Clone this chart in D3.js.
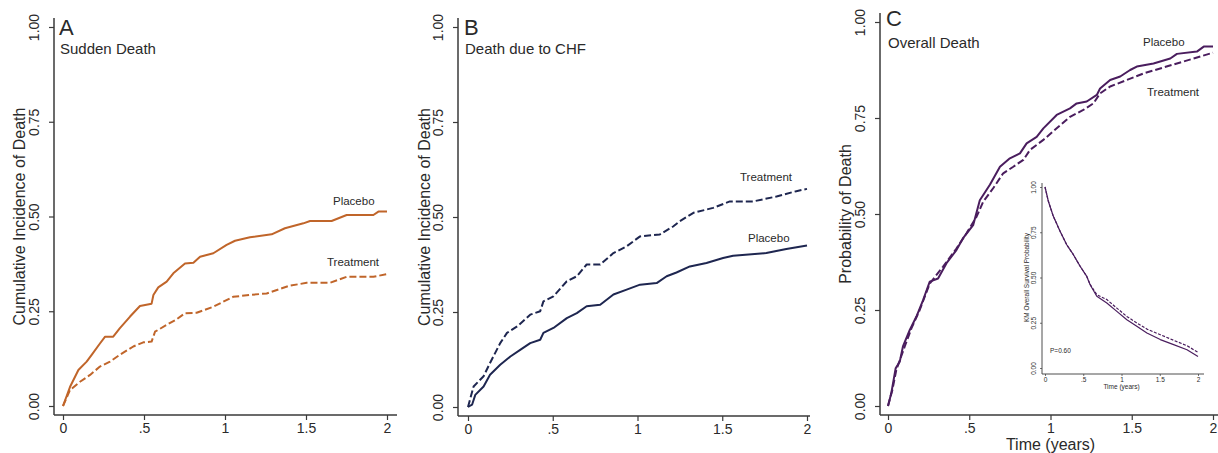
<!DOCTYPE html>
<html>
<head>
<meta charset="utf-8">
<script src="https://cdn.jsdelivr.net/npm/d3@7/dist/d3.min.js"></script>
<style>
  body { margin: 0; background: #fff; }
  svg { display: block; font-family: "Liberation Sans", Arial, sans-serif; }
</style>
</head>
<body>
<svg id="chart" width="1218" height="453"></svg>
<script>
// ---------- DATA ----------
const xTicks = [0, 0.5, 1, 1.5, 2];
const xTickLabels = ["0", ".5", "1", "1.5", "2"];
const yTicks = [0, 0.25, 0.5, 0.75, 1];
const yTickLabels = ["0.00", "0.25", "0.50", "0.75", "1.00"];

// Panel A: Sudden Death
const aPlaceboT = [0, .043, .095, .146, .177, .228, .26, .31, .35, .414, .475, .547, .558, .588, .64, .681, .753, .805, .846, .928, 1.01, 1.062, 1.154, 1.288, 1.37, 1.484, 1.525, 1.658, 1.751, 1.916, 1.947, 2];
const aPlaceboV = [0, .05, .095, .117, .135, .165, .183, .183, .205, .236, .264, .27, .293, .313, .328, .35, .376, .378, .394, .403, .425, .436, .445, .453, .469, .482, .488, .488, .504, .504, .513, .513];
const aTreatT = [0, .043, .105, .167, .228, .29, .35, .434, .496, .547, .568, .64, .702, .753, .825, .928, 1.05, 1.154, 1.257, 1.395, 1.504, 1.648, 1.751, 1.916, 2];
const aTreatV = [0, .042, .064, .082, .104, .117, .135, .157, .168, .17, .196, .214, .229, .245, .246, .262, .288, .293, .297, .317, .325, .325, .341, .341, .348];

// Panel B: Death due to CHF
const bPlaceboT = [0, .024, .043, .092, .13, .19, .25, .31, .367, .426, .445, .504, .583, .642, .70, .78, .858, .936, 1.015, 1.113, 1.172, 1.23, 1.309, 1.407, 1.505, 1.564, 1.76, 1.878, 2];
const bPlaceboV = [0, .006, .032, .054, .085, .111, .133, .151, .168, .177, .195, .208, .234, .247, .265, .269, .296, .309, .322, .326, .344, .354, .37, .379, .392, .398, .405, .416, .425];
const bTreatT = [0, .033, .092, .13, .19, .23, .29, .367, .426, .445, .504, .583, .642, .70, .78, .858, .936, 1.015, 1.132, 1.21, 1.25, 1.33, 1.446, 1.545, 1.682, 1.82, 1.937, 2];
const bTreatV = [0, .054, .081, .116, .168, .195, .212, .243, .252, .278, .291, .331, .344, .375, .375, .405, .423, .449, .454, .475, .489, .511, .524, .541, .541, .554, .568, .574];

// Panel C: Overall Death
const cPlaceboT = [0, .02, .047, .072, .092, .134, .175, .216, .257, .308, .36, .421, .462, .524, .565, .627, .689, .75, .812, .853, .915, .956, 1.038, 1.12, 1.161, 1.223, 1.285, 1.305, 1.367, 1.429, 1.49, 1.531, 1.634, 1.737, 1.778, 1.901, 1.943, 2];
const cPlaceboV = [0, .033, .098, .115, .155, .198, .233, .276, .324, .332, .372, .406, .437, .471, .536, .576, .623, .645, .658, .684, .701, .723, .758, .775, .788, .793, .81, .827, .849, .858, .875, .884, .892, .905, .917, .923, .936, .936];
const cTreatT = [0, .027, .051, .103, .144, .195, .257, .339, .421, .483, .545, .586, .647, .709, .771, .833, .874, .956, 1.038, 1.12, 1.202, 1.264, 1.305, 1.367, 1.47, 1.572, 1.675, 1.778, 1.881, 2];
const cTreatV = [0, .042, .094, .155, .202, .25, .319, .363, .41, .45, .493, .532, .567, .606, .623, .641, .667, .693, .723, .753, .771, .788, .814, .832, .849, .866, .879, .892, .905, .92];

// Inset: KM overall survival
const kmPlaceboT = [0, .044, .109, .197, .284, .371, .459, .546, .59, .677, .808, .939, 1.07, 1.2, 1.332, 1.507, 1.681, 1.856, 2];
const kmPlaceboV = [1, .921, .838, .755, .681, .626, .562, .506, .46, .396, .359, .313, .267, .23, .193, .157, .129, .101, .064];
const kmTreatT = [0, .044, .109, .197, .284, .371, .459, .546, .59, .677, .808, .939, 1.07, 1.2, 1.332, 1.507, 1.681, 1.856, 2];
const kmTreatV = [1, .921, .838, .755, .681, .626, .562, .506, .462, .405, .378, .331, .285, .249, .215, .184, .153, .123, .087];

const zip = (t, v) => t.map((d, i) => [d, v[i]]);

// ---------- DRAW ----------
const svg = d3.select("#chart");
const axisColor = "#3a3a3a";
const textColor = "#2a2a2a";

function drawPanel(p) {
  const g = svg.append("g");
  const x = d3.scaleLinear().domain([0, 2]).range([p.x0, p.x1]);
  const y = d3.scaleLinear().domain([0, 1]).range([p.y0, p.y1]);
  const fs = p.tickFont;

  // y axis
  const yAx = g.append("g").attr("transform", `translate(${p.axX},0)`)
    .call(d3.axisLeft(y).tickValues(yTicks).tickSize(p.tickLen).tickFormat((d, i) => yTickLabels[i]));
  yAx.select(".domain").attr("d", `M0,${p.axTop}V${p.axY}`);
  // x axis
  const xAx = g.append("g").attr("transform", `translate(0,${p.axY})`)
    .call(d3.axisBottom(x).tickValues(xTicks).tickSize(p.tickLen).tickFormat((d, i) => xTickLabels[i]));
  xAx.select(".domain").attr("d", `M${p.axX},0H${p.axRight}`);

  [yAx, xAx].forEach(a => {
    a.selectAll(".domain").attr("stroke", axisColor).attr("stroke-width", p.axW);
    a.selectAll(".tick line").attr("stroke", axisColor).attr("stroke-width", p.axW * 0.8);
    a.selectAll("text").attr("fill", textColor).style("font-size", fs + "px")
      .style("font-family", '"Liberation Sans", Arial, sans-serif');
  });
  xAx.selectAll(".tick text").attr("y", p.tickLen + p.xLabPad).attr("dy", "0.71em");
  yAx.selectAll(".tick text")
    .attr("x", 0).attr("dy", 0)
    .attr("text-anchor", "middle")
    .attr("transform", `translate(${-(p.tickLen + p.yLabPad)},0) rotate(-90)`);

  // axis titles
  if (p.yTitle) {
    g.append("text").attr("transform", `translate(${p.yTitleX},${(p.y0 + p.y1) / 2}) rotate(-90)`)
      .attr("text-anchor", "middle").attr("fill", textColor)
      .style("font-size", p.titleFont + "px").text(p.yTitle);
  }
  if (p.xTitle) {
    g.append("text").attr("x", (p.x0 + p.x1) / 2).attr("y", p.xTitleY)
      .attr("text-anchor", "middle").attr("fill", textColor)
      .style("font-size", p.titleFont + "px").text(p.xTitle);
  }

  // lines
  const line = d3.line().x(d => x(d[0])).y(d => y(d[1])).curve(d3.curveLinear);
  p.series.forEach(s => {
    g.append("path").datum(s.data).attr("d", line)
      .attr("fill", "none").attr("stroke", p.color).attr("stroke-width", p.lineW)
      .attr("stroke-linejoin", "round")
      .attr("stroke-dasharray", s.dashed ? p.dash : null);
  });

  // labels
  (p.labels || []).forEach(l => {
    g.append("text").attr("x", l.x).attr("y", l.y).attr("fill", textColor)
      .style("font-size", l.size + "px").text(l.text);
  });
}

// Panel A
drawPanel({
  x0: 63, x1: 387, y0: 406, y1: 27, axX: 54, axY: 415, axTop: 18, axRight: 397,
  tickLen: 5, xLabPad: 3, yLabPad: 10, tickFont: 14, titleFont: 16, axW: 1.5,
  yTitle: "Cumulative Incidence of Death", yTitleX: 25,
  color: "#c0652a", lineW: 2, dash: "7,3",
  series: [{ data: zip(aPlaceboT, aPlaceboV) }, { data: zip(aTreatT, aTreatV), dashed: true }],
  labels: [
    { x: 59, y: 35, text: "A", size: 22 },
    { x: 60, y: 54, text: "Sudden Death", size: 15 },
    { x: 333, y: 205, text: "Placebo", size: 11.5 },
    { x: 327, y: 266, text: "Treatment", size: 11.5 }
  ]
});

// Panel B
drawPanel({
  x0: 468, x1: 807, y0: 407, y1: 27, axX: 458, axY: 416, axTop: 18, axRight: 810,
  tickLen: 5, xLabPad: 3, yLabPad: 10, tickFont: 14, titleFont: 16, axW: 1.5,
  yTitle: "Cumulative Incidence of Death", yTitleX: 430,
  color: "#1e2650", lineW: 2, dash: "7,3",
  series: [{ data: zip(bPlaceboT, bPlaceboV) }, { data: zip(bTreatT, bTreatV), dashed: true }],
  labels: [
    { x: 464, y: 35, text: "B", size: 22 },
    { x: 465, y: 54, text: "Death due to CHF", size: 15 },
    { x: 740, y: 181, text: "Treatment", size: 11.5 },
    { x: 748, y: 242, text: "Placebo", size: 11.5 }
  ]
});

// Panel C
drawPanel({
  x0: 888, x1: 1213, y0: 406, y1: 22, axX: 880, axY: 415, axTop: 13, axRight: 1218,
  tickLen: 5, xLabPad: 3, yLabPad: 10, tickFont: 14, titleFont: 16, axW: 1.5,
  yTitle: "Probability of Death", yTitleX: 851,
  xTitle: "Time (years)", xTitleY: 450,
  color: "#4a1d5e", lineW: 2, dash: "7,3",
  series: [{ data: zip(cPlaceboT, cPlaceboV) }, { data: zip(cTreatT, cTreatV), dashed: true }],
  labels: [
    { x: 886, y: 26, text: "C", size: 22 },
    { x: 888, y: 48, text: "Overall Death", size: 15 },
    { x: 1143, y: 46, text: "Placebo", size: 11.5 },
    { x: 1147, y: 96, text: "Treatment", size: 11.5 }
  ]
});

// Inset
drawPanel({
  x0: 1045, x1: 1198, y0: 368, y1: 187, axX: 1042, axY: 374, axTop: 183, axRight: 1204,
  tickLen: 2, xLabPad: 1, yLabPad: 4, tickFont: 6.5, titleFont: 6.5, axW: 0.9,
  yTitle: "KM Overall Survival Probability", yTitleX: 1029,
  xTitle: "Time (years)", xTitleY: 389,
  color: "#4a1d5e", lineW: 1.2, dash: "3,1.5",
  series: [{ data: zip(kmPlaceboT, kmPlaceboV) }, { data: zip(kmTreatT, kmTreatV), dashed: true }],
  labels: [
    { x: 1050, y: 353, text: "P=0.60", size: 6.5 }
  ]
});
</script>
</body>
</html>
